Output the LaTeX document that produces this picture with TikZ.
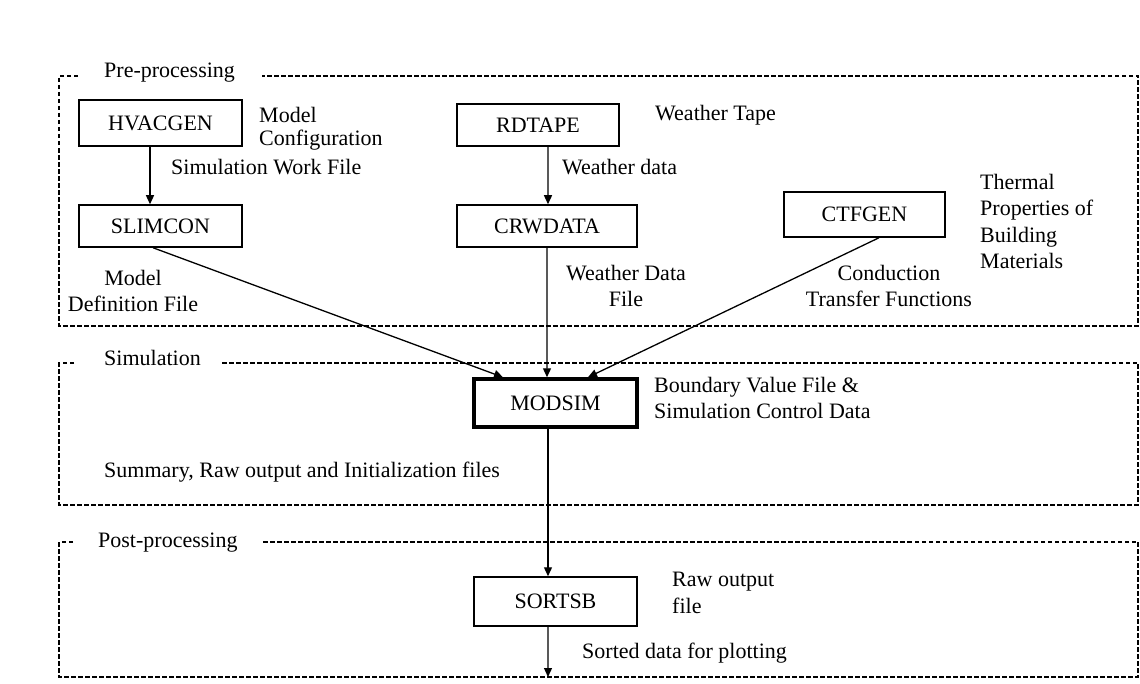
\documentclass[tikz,border=0pt]{standalone}
\usepackage{fontspec}
\setmainfont{Liberation Serif}
\usetikzlibrary{arrows.meta}
\tikzset{
  lbl/.style={inner sep=0pt, font=\fontsize{22bp}{26.5bp}\selectfont},
  lbltight/.style={inner sep=0pt, font=\fontsize{22bp}{23bp}\selectfont},
  prog/.style={draw, line width=1.5bp, inner sep=0pt, font=\fontsize{22bp}{26bp}\selectfont, minimum width=163bp},
  progbold/.style={prog, line width=3.5bp},
  frame/.style={line width=1.1bp, dash pattern=on 4.5bp off 2.5bp},
  flow/.style={line width=1.3bp, -{Triangle[length=9bp,width=8bp]}}
}
\begin{document}
\begin{tikzpicture}[x=1bp,y=-1bp]
\useasboundingbox (0,0) rectangle (1140,684);
% frames
\draw[frame] (78,76) -- (59,76) -- (59,326) -- (1138,326) -- (1138,76) -- (262,76);
\draw[frame] (74,363) -- (59,363) -- (59,505) -- (1138,505) -- (1138,363) -- (222,363);
\draw[frame] (73,542) -- (59,542) -- (59,677) -- (1138,677) -- (1138,542) -- (262,542);
\node[lbl, anchor=base west] (pre) at (104,78) {Pre-processing};
\node[lbl, anchor=base west] (sim) at (104,365) {Simulation};
\node[lbl, anchor=base west] (post) at (98,547) {Post-processing};
% programs
\node[prog, minimum height=46bp] (hv) at (160.5,123) {HVACGEN};
\node[prog, minimum height=42bp] (sl) at (160.5,226) {SLIMCON};
\node[prog, minimum height=42bp, minimum width=162bp] (rd) at (538,125) {RDTAPE};
\node[prog, minimum height=42bp, minimum width=180bp] (cr) at (547,226) {CRWDATA};
\node[prog, minimum height=45bp, minimum width=161bp] (ct) at (864.5,214.5) {CTFGEN};
\node[progbold, minimum height=48bp] (md) at (555.5,403) {MODSIM};
\node[prog, minimum height=49bp] (so) at (555.5,601.5) {SORTSB};
\coordinate (out) at (548,677);
% labels
\node[lbltight, anchor=north west, align=left] (l1) at (259,107) {Model\\Configuration};
\node[lbl, anchor=base west] (l2) at (171,175) {Simulation Work File};
\node[lbl, anchor=base west] (l3) at (655,121) {Weather Tape};
\node[lbl, anchor=base west] (l4) at (562,175) {Weather data};
\node[lbl, anchor=north west, align=left] (l5) at (980,174) {Thermal\\Properties of\\Building\\Materials};
\node[lbl, anchor=north, align=center] (l6) at (133,270) {Model\\Definition File};
\node[lbl, anchor=north, align=center] (l7) at (626,265) {Weather Data\\File};
\node[lbl, anchor=north, align=center] (l8) at (889,265) {Conduction\\Transfer Functions};
\node[lbl, anchor=north west, align=left] (l9) at (654,377) {Boundary Value File \&\\Simulation Control Data};
\node[lbl, anchor=base west] (l10) at (104,477) {Summary, Raw output and Initialization files};
\node[lbl, anchor=north west, align=left] (l11) at (672,572) {Raw output\\file};
\node[lbl, anchor=base west] (l12) at (582,658) {Sorted data for plotting};
% connectors
\draw[flow] ([xshift=-10.5bp]hv.south) -- ([xshift=-10.5bp]sl.north);
\draw[flow] ([xshift=10bp]rd.south) -- ([xshift=1bp]cr.north);
\draw[flow] ([xshift=-7.5bp]sl.south) -- ([xshift=-52.5bp]md.north);
\draw[flow] (cr.south) -- ([xshift=-8.5bp]md.north);
\draw[flow] ([xshift=14.5bp]ct.south) -- ([xshift=32.5bp]md.north);
\draw[flow] ([xshift=-7.5bp]md.south) -- ([xshift=-7.5bp]so.north);
\draw[flow] ([xshift=-7.5bp]so.south) -- (out);
\end{tikzpicture}
\end{document}
